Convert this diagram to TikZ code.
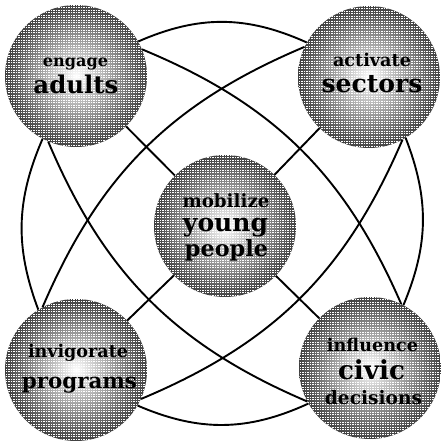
\documentclass[tikz,border=0pt]{standalone}
\usepackage{fontspec}
\setmainfont{DejaVu Serif}
\usepackage{graphicx}
\tikzset{
 blob/.style={circle, minimum size=142pt, inner sep=0pt, inner color=white, outer color=black!75,
   path picture={
     \foreach \dx in {-72,-69.5,...,72}
       \draw[white, line width=1.3pt, dash pattern=on 1.2pt off 1.3pt]
         ([xshift=\dx pt,yshift=-75pt]path picture bounding box.center) -- ++(0,150pt);
   }},
 word/.style={anchor=base, inner sep=0pt},
 link/.style={line width=1.9pt, black},
}
\newcommand\fitw[2]{\resizebox{#1pt}{!}{\bfseries #2}}
\begin{document}
\begin{tikzpicture}[x=1pt,y=1pt]
\useasboundingbox (0,0) rectangle (441,447);
\node[blob] (tl) at (76,371) {};
\node[blob] (tr) at (369,370) {};
\node[blob] (c) at (225,221) {};
\node[blob] (bl) at (76,77) {};
\node[blob] (br) at (370,79) {};
% straight links
\draw[link] (tl) -- (c);
\draw[link] (tr) -- (c);
\draw[link] (bl) -- (c);
\draw[link] (br) -- (c);
% outer ring
\draw[link] (tl.29) to[bend left=24] (tr.151);
\draw[link] (tr.301) to[bend left=22] (br.62);
\draw[link] (br.210) to[bend left=24] (bl.330);
\draw[link] (bl.122) to[bend left=22] (tl.242);
% inner arcs
\draw[link] (tl.22) to[bend left=22] (br.64);
\draw[link] (tr.298) to[bend left=22] (bl.336);
\draw[link] (tl.247) to[bend right=22] (br.208);
\draw[link] (bl.118) to[bend left=22] (tr.155);
% words
\node[word] (tl1) at (75.5,380) {\fitw{65}{engage}};
\node[word] (tl2) at (76,353) {\fitw{85}{adults}};
\node[word] (tr1) at (372,380) {\fitw{78}{activate}};
\node[word] (tr2) at (372,354) {\fitw{101}{sectors}};
\node[word] (c1) at (226,239) {\fitw{87}{mobilize}};
\node[word] (c2) at (225.5,215) {\fitw{85}{young}};
\node[word] (c3) at (226.5,190) {\fitw{83}{people}};
\node[word] (bl1) at (78,89) {\fitw{100}{invigorate}};
\node[word] (bl2) at (79.5,58) {\fitw{115}{programs}};
\node[word] (br1) at (372.5,95) {\fitw{91}{influence}};
\node[word] (br2) at (371.5,67) {\fitw{67}{civic}};
\node[word] (br3) at (373.5,42) {\fitw{97}{decisions}};
\end{tikzpicture}
\end{document}
